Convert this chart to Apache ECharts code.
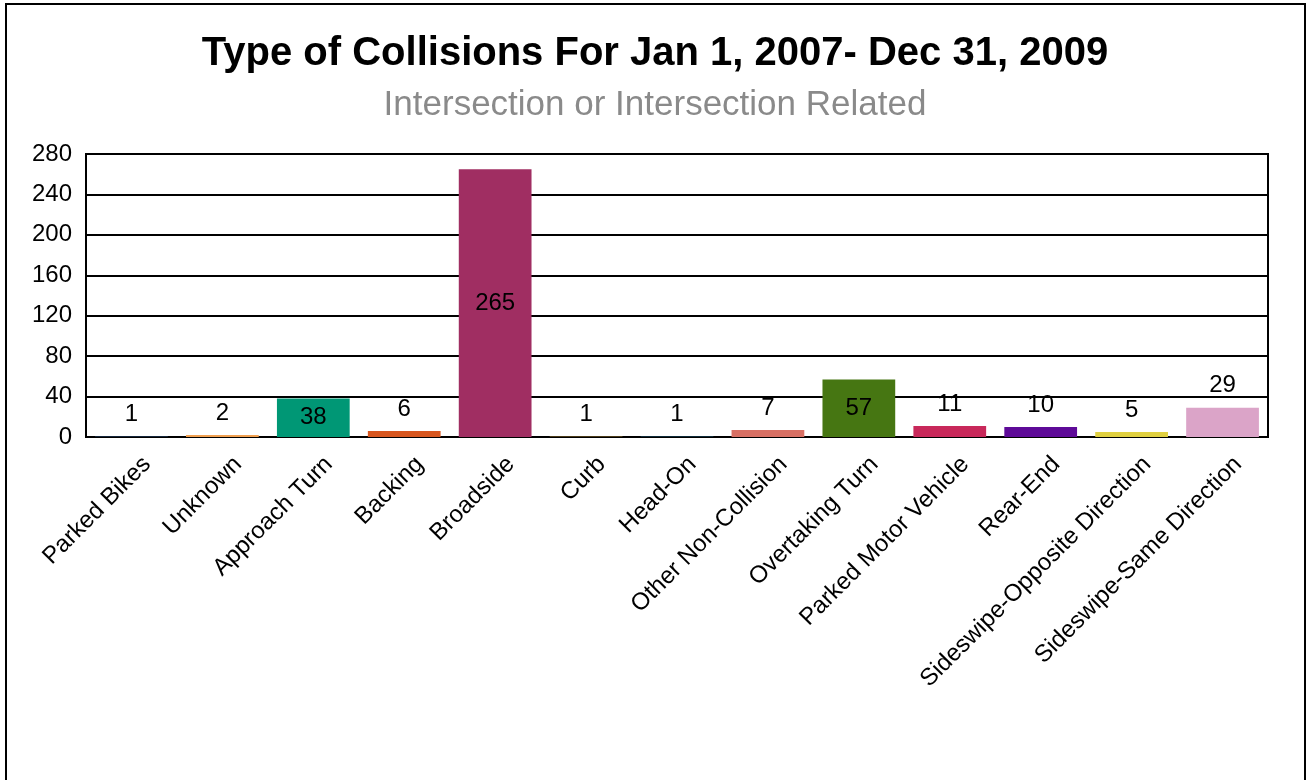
<!DOCTYPE html>
<html>
<head>
<meta charset="utf-8">
<script src="https://cdn.jsdelivr.net/npm/echarts@6/dist/echarts.min.js"></script>
<style>html,body{margin:0;padding:0;background:#fff}#c{width:1310px;height:780px}</style>
</head>
<body>
<div id="c"></div>
<script>
const titleText = 'Type of Collisions For Jan 1, 2007- Dec 31, 2009';
const subtitleText = 'Intersection or Intersection Related';
const categories = ['Parked Bikes','Unknown','Approach Turn','Backing','Broadside','Curb','Head-On','Other Non-Collision','Overtaking Turn','Parked Motor Vehicle','Rear-End','Sideswipe-Opposite Direction','Sideswipe-Same Direction'];
const values = [1, 2, 38, 6, 265, 1, 1, 7, 57, 11, 10, 5, 29];
const colors = ['#14263a','#f0a050','#009775','#d8561e','#a02e62','#4a3a18','#0e2a38','#d87064','#467612','#c8285a','#5e0a98','#e0d040','#dba4c8'];
const yTicks = [0, 40, 80, 120, 160, 200, 240, 280];

const font = '"Liberation Sans", Arial, sans-serif';
const chart = echarts.init(document.getElementById('c'), null, {renderer: 'canvas'});
chart.setOption({
  backgroundColor: '#fff',
  animation: false,
  title: {
    text: titleText,
    subtext: subtitleText,
    left: 'center',
    top: 29,
    itemGap: 14,
    textStyle: {fontFamily: font, fontSize: 40, fontWeight: 'bold', color: '#000'},
    subtextStyle: {fontFamily: font, fontSize: 35, color: '#8a8a8a'}
  },
  graphic: [{
    type: 'rect', shape: {x: 6, y: 4, width: 1299, height: 820},
    style: {fill: 'none', stroke: '#000', lineWidth: 2}, silent: true
  }],
  grid: {left: 86, right: 42, top: 154, bottom: 343, show: true, borderColor: '#000', borderWidth: 2, containLabel: false},
  xAxis: {
    type: 'category',
    data: categories,
    axisLine: {show: true, lineStyle: {color: '#000', width: 2}},
    axisTick: {show: false},
    axisLabel: {
      interval: 0, rotate: 45, margin: 8, verticalAlign: 'top', padding: [10, 0, 0, 0],
      fontFamily: font, fontSize: 24, color: '#000'
    }
  },
  yAxis: {
    type: 'value',
    min: yTicks[0], max: yTicks[yTicks.length - 1], interval: yTicks[1] - yTicks[0],
    axisLine: {show: true, lineStyle: {color: '#000', width: 2}},
    axisTick: {show: false},
    splitLine: {show: true, lineStyle: {color: '#000', width: 2}},
    axisLabel: {margin: 14, fontFamily: font, fontSize: 24, color: '#000'}
  },
  series: [{
    type: 'bar',
    barCategoryGap: '20%',
    data: values.map((v, i) => ({
      value: v,
      itemStyle: {color: colors[i]},
      label: v >= 30 ? {position: 'inside'} : {position: 'top', distance: 10}
    })),
    label: {show: true, fontFamily: font, fontSize: 24, color: '#000'}
  }]
});
</script>
</body>
</html>
